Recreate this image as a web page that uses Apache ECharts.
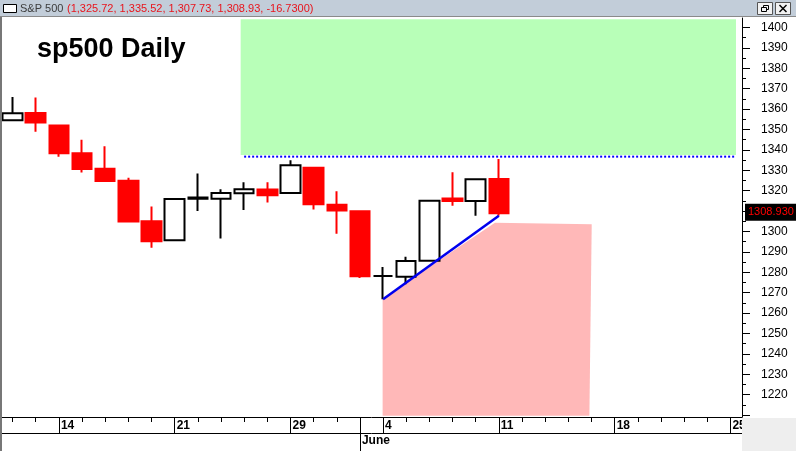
<!DOCTYPE html>
<html>
<head>
<meta charset="utf-8">
<script src="https://cdn.jsdelivr.net/npm/echarts@6/dist/echarts.min.js"></script>
<style>
html,body{margin:0;padding:0;background:#fff;}
#chart{width:796px;height:451px;}
</style>
</head>
<body>
<div id="chart"></div>
<script>
// ---- data ----
const dates = ['2012-05-10','2012-05-11','2012-05-14','2012-05-15','2012-05-16','2012-05-17','2012-05-18',
  '2012-05-21','2012-05-22','2012-05-23','2012-05-24','2012-05-25','2012-05-29','2012-05-30','2012-05-31',
  '2012-06-01','2012-06-04','2012-06-05','2012-06-06','2012-06-07','2012-06-08','2012-06-11',
  '2012-06-12','2012-06-13','2012-06-14','2012-06-15','2012-06-18','2012-06-19','2012-06-20','2012-06-21',
  '2012-06-22','2012-06-25'];
const opens  = [1354.58,1358.11,1351.93,1338.36,1330.78,1324.82,1305.05,1295.73,1316.09,1316.02,1318.72,1320.64,1318.90,1331.25,1313.09,1309.87,1278.20,1277.82,1285.61,1316.15,1314.99,1325.72];
const closes = [1357.99,1353.39,1338.35,1330.66,1324.80,1304.86,1295.22,1315.99,1316.63,1318.86,1320.68,1317.82,1332.42,1313.32,1310.33,1278.04,1278.20,1285.50,1315.13,1314.99,1325.66,1308.93];
const lows   = [1354.58,1348.89,1336.61,1328.88,1324.79,1304.86,1291.98,1295.73,1310.04,1296.53,1310.50,1314.23,1318.90,1310.76,1298.90,1277.25,1266.74,1274.16,1285.61,1312.68,1307.77,1307.73];
const highs  = [1365.88,1365.66,1351.93,1344.94,1341.78,1326.36,1312.24,1316.39,1328.49,1320.71,1324.14,1324.20,1334.93,1331.25,1319.74,1309.87,1282.55,1287.62,1315.13,1329.05,1325.81,1335.52];

const priceMin = 1209.07, priceMax = 1404.66;
const labelTicks = [1220,1230,1240,1250,1260,1270,1280,1290,1300,1310,1320,1330,1340,1350,1360,1370,1380,1390,1400];
const majorTicks = [1210,1220,1230,1240,1250,1260,1270,1280,1290,1300,1310,1320,1330,1340,1350,1360,1370,1380,1390,1400];
const minorTicks = [1215,1225,1235,1245,1255,1265,1275,1285,1295,1305,1315,1325,1335,1345,1355,1365,1375,1385,1395,1405];

// annotations (in data space: x = trading-day index, y = price)
const buyZone = [[9.85,1404.0],[31.24,1404.0],[31.24,1337.5],[9.85,1337.5]];
const sellZone = [[15.98,1267.25],[20.83,1304.3],[25.01,1303.5],[24.91,1209.7],[15.98,1209.7]];
const resistanceLine = [[10.0,1336.7],[31.2,1336.7]];
const trendLine = [[16,1266.74],[21,1307.73]];

// ---- derived ----
const candleData = opens.map((o,i)=>[o, closes[i], lows[i], highs[i]]);
const dayOf = d => String(parseInt(d.slice(8),10));
const dayNum = d => Date.UTC(+d.slice(0,4), +d.slice(5,7)-1, +d.slice(8,10))/86400000;
const weekStart = dates.map((d,i)=> i>0 && dayNum(d)-dayNum(dates[i-1])>1);
const monthStart = dates.map((d,i)=> i>0 && d.slice(5,7)!==dates[i-1].slice(5,7));
const monthNames = ['January','February','March','April','May','June','July','August','September','October','November','December'];

const n = closes.length - 1;
const fmt2 = v => v.toLocaleString('en-US',{minimumFractionDigits:2, maximumFractionDigits:2});
const change = closes[n] - closes[n-1];
const headerText = '(' + [opens[n],highs[n],lows[n],closes[n]].map(fmt2).join(', ') + ', ' + change.toFixed(4) + ')';

const FONT = '"Liberation Sans", Arial, sans-serif';
const chart = echarts.init(document.getElementById('chart'), null, {renderer:'canvas'});

const zones = [buyZone, sellZone];
const zoneColors = ['#b8ffb8', '#ffb8b8'];
const gridRect = {left:1, top:18, width:741, bottom:34, containLabel:false};

const option = {
  animation:false,
  backgroundColor:'#fff',
  grid:[Object.assign({}, gridRect), Object.assign({}, gridRect)],
  xAxis:[
    {type:'category', gridIndex:0, data:dates, boundaryGap:true, position:'bottom',
     axisLine:{show:true, lineStyle:{color:'#000', width:1}},
     axisTick:{show:true, alignWithLabel:true, interval:0, length:5, lineStyle:{color:'#000'}},
     axisLabel:{interval:0, formatter:(v,i)=> weekStart[i] ? dayOf(v) : '', align:'left', margin:3,
       padding:[0,0,0,2], fontFamily:FONT, fontSize:12, fontWeight:'bold', color:'#000'},
     splitLine:{show:false}},
    {type:'category', gridIndex:0, data:dates, boundaryGap:true, position:'bottom', offset:0,
     axisLine:{show:false},
     axisTick:{show:true, alignWithLabel:true, interval:(i)=> weekStart[i] || monthStart[i], length:16, lineStyle:{color:'#000'}},
     axisLabel:{show:false}, splitLine:{show:false}},
    {type:'category', gridIndex:0, data:dates, boundaryGap:true, position:'bottom', offset:16,
     axisLine:{show:true, lineStyle:{color:'#000', width:1}},
     axisTick:{show:true, alignWithLabel:true, interval:(i)=> monthStart[i], length:18, lineStyle:{color:'#000'}},
     axisLabel:{interval:0, formatter:(v,i)=> monthStart[i] ? monthNames[+v.slice(5,7)-1] : '', align:'left', margin:2,
       padding:[0,0,0,2], fontFamily:FONT, fontSize:12, fontWeight:'bold', color:'#000'},
     splitLine:{show:false}},
    {type:'value', gridIndex:0, min:-0.5, max:dates.length-0.5, show:false},
    {type:'value', gridIndex:1, min:-0.5, max:dates.length-0.5, show:false}
  ],
  yAxis:[
    {type:'value', gridIndex:0, position:'right', min:priceMin, max:priceMax, scale:true,
     axisLine:{show:true, onZero:false, lineStyle:{color:'#000', width:1}},
     axisTick:{show:true, customValues:majorTicks, length:8, lineStyle:{color:'#000'}},
     axisLabel:{show:true, customValues:labelTicks, margin:19, formatter:(v)=>String(v), fontFamily:FONT, fontSize:12, color:'#000'},
     splitLine:{show:false}},
    {type:'value', gridIndex:1, position:'right', min:priceMin, max:priceMax, scale:true,
     axisLine:{show:false, onZero:false},
     axisTick:{show:true, customValues:minorTicks, length:4, lineStyle:{color:'#000'}},
     axisLabel:{show:false}, splitLine:{show:false}}
  ],
  series:[
    {type:'custom', xAxisIndex:3, yAxisIndex:0, z:1, silent:true,
     data: zones.map(z=>z[0]),
     renderItem:(params, api)=>{
       const pts = zones[params.dataIndex].map(p=>api.coord(p));
       return {type:'polygon', shape:{points:pts}, style:{fill:zoneColors[params.dataIndex]}};
     }},
    {type:'line', xAxisIndex:3, yAxisIndex:0, z:3, data:resistanceLine, symbol:'none', silent:true,
     lineStyle:{color:'#0000ff', width:2, type:[2,2]}},
    {type:'candlestick', xAxisIndex:0, yAxisIndex:0, z:4, data:candleData, barWidth:20,
     itemStyle:{color:'#ffffff', color0:'#ff0000', borderColor:'#000000', borderColor0:'#ff0000', borderWidth:2},
     markLine:{silent:true, symbol:['none','none'], animation:false,
       lineStyle:{color:'rgba(0,0,0,0)', width:1},
       label:{show:true, position:'end', distance:3, offset:[0,-1], formatter:()=>closes[n].toFixed(3),
         backgroundColor:'#000', color:'#ff0000', fontFamily:FONT, fontSize:11, padding:[3,3,3,3]},
       data:[{yAxis:closes[n]}]}},
    {type:'line', xAxisIndex:3, yAxisIndex:0, z:5, data:trendLine, symbol:'none', silent:true,
     lineStyle:{color:'#0000ee', width:2.5}}
  ],
  graphic:[
    {type:'rect', z:100, shape:{x:0,y:0,width:796,height:17}, style:{fill:'#c2cdd9'}},
    {type:'line', z:101, shape:{x1:0,y1:16.5,x2:796,y2:16.5}, style:{stroke:'#8a8a8a', lineWidth:1}},
    {type:'rect', z:101, shape:{x:3.5,y:4.5,width:13,height:8}, style:{fill:'#fff', stroke:'#000', lineWidth:1}},
    {type:'text', z:101, x:20, y:9, style:{text:'S&P 500', font:'11px '+FONT, fill:'#3c3c3c', verticalAlign:'middle'}},
    {type:'text', z:101, x:67, y:9, style:{text:headerText, font:'11px '+FONT, fill:'#e8141c', verticalAlign:'middle'}},
    // window buttons
    {type:'rect', z:101, shape:{x:757.5,y:2.5,width:15,height:12}, style:{fill:'#f2f2f2', stroke:'#555', lineWidth:1}},
    {type:'rect', z:102, shape:{x:763.5,y:5.5,width:5,height:4}, style:{fill:'none', stroke:'#000', lineWidth:1}},
    {type:'rect', z:102, shape:{x:761.5,y:7.5,width:5,height:4}, style:{fill:'#f2f2f2', stroke:'#000', lineWidth:1}},
    {type:'rect', z:101, shape:{x:775.5,y:2.5,width:15,height:12}, style:{fill:'#f2f2f2', stroke:'#555', lineWidth:1}},
    {type:'line', z:102, shape:{x1:779.5,y1:5,x2:786.5,y2:12}, style:{stroke:'#000', lineWidth:1.5}},
    {type:'line', z:102, shape:{x1:786.5,y1:5,x2:779.5,y2:12}, style:{stroke:'#000', lineWidth:1.5}},
    // frame
    {type:'rect', z:99, shape:{x:0,y:17,width:2,height:434}, style:{fill:'#777'}},
    {type:'rect', z:99, shape:{x:742,y:418,width:54,height:33}, style:{fill:'#eeeeee'}},
    // title
    {type:'text', z:50, x:37, y:36, style:{text:'sp500 Daily', font:'bold 27px '+FONT, fill:'#000', verticalAlign:'top'}}
  ]
};
chart.setOption(option);
</script>
</body>
</html>
